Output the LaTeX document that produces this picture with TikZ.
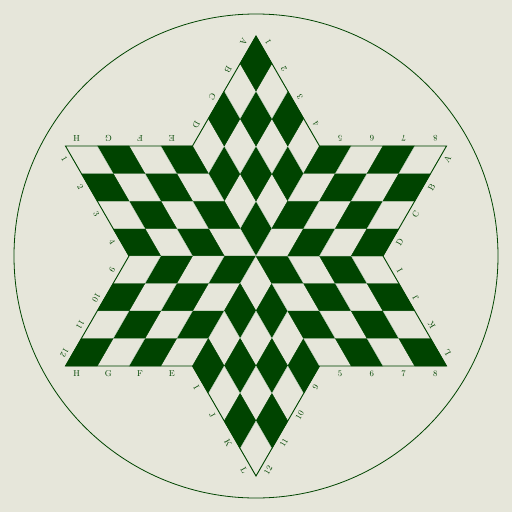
\documentclass[tikz,border=0pt]{standalone}
\usetikzlibrary{calc}
\definecolor{board}{HTML}{E6E6DA}
\definecolor{ink}{HTML}{004400}
\tikzset{
  cell/.style={line width=0.4pt,line join=round},
  rimlabel/.style={font=\fontsize{8.5}{9}\selectfont,text=ink,inner sep=0pt}
}
% labels along one edge of a tip: tip angle, side (-1 or 1), labels from the tip
\newcommand{\rimlabels}[3]{%
  \pgfmathsetmacro\pa{#1+(#2)*30}
  \pgfmathsetmacro\na{#1+(#2)*60}
  \pgfmathsetmacro\ro{#1+90+(#2)*60}
  \foreach \t [count=\m from 0] in {#3}{
    \pgfmathsetmacro\f{(\m+0.35)/4}
    \node[rimlabel,rotate=\ro] (#1-\t) at ($(#1:220)!\f!(\pa:127.02)+(\na:7.5)$) {\t};
  }}

\begin{document}
\begin{tikzpicture}[x=1pt,y=1pt]
\fill[board] (-256,-256) rectangle (256,256);
\useasboundingbox (-256,-256) rectangle (256,256);
\draw[ink,line width=0.8pt] (0,0) circle (242);
% six sectors of 4x4 cells
\foreach \k in {0,...,5}{
  \pgfmathsetmacro\p{90+60*\k}
  \pgfmathsetmacro\ax{127.02*cos(\p-30)/4}
  \pgfmathsetmacro\ay{127.02*sin(\p-30)/4}
  \pgfmathsetmacro\bx{127.02*cos(\p+30)/4}
  \pgfmathsetmacro\by{127.02*sin(\p+30)/4}
  \foreach \i in {0,...,3}{
    \foreach \j in {0,...,3}{
      \pgfmathtruncatemacro\c{mod(\i+\j+\k,2)}
      \ifnum\c=0 \def\cc{ink}\def\cd{ink}\else\def\cc{board}\def\cd{ink!30}\fi
      \filldraw[cell,fill=\cc,draw=\cd]
        ({\i*\ax+\j*\bx},{\i*\ay+\j*\by}) --
        ({(\i+1)*\ax+\j*\bx},{(\i+1)*\ay+\j*\by}) --
        ({(\i+1)*\ax+(\j+1)*\bx},{(\i+1)*\ay+(\j+1)*\by}) --
        ({\i*\ax+(\j+1)*\bx},{\i*\ay+(\j+1)*\by}) -- cycle;
    }}}
% outline of the star
\draw[ink,line width=0.9pt,line join=miter]
  (90:220) -- (120:127.02) -- (150:220) -- (180:127.02) -- (210:220) -- (240:127.02)
  -- (270:220) -- (300:127.02) -- (330:220) -- (0:127.02) -- (30:220) -- (60:127.02) -- cycle;
% edge labels
\rimlabels{90}{1}{A,B,C,D}
\rimlabels{90}{-1}{1,2,3,4}
\rimlabels{150}{-1}{H,G,F,E}
\rimlabels{150}{1}{1,2,3,4}
\rimlabels{210}{-1}{12,11,10,9}
\rimlabels{210}{1}{H,G,F,E}
\rimlabels{270}{-1}{L,K,J,I}
\rimlabels{270}{1}{12,11,10,9}
\rimlabels{330}{-1}{8,7,6,5}
\rimlabels{330}{1}{L,K,J,I}
\rimlabels{30}{-1}{A,B,C,D}
\rimlabels{30}{1}{8,7,6,5}
\end{tikzpicture}
\end{document}
